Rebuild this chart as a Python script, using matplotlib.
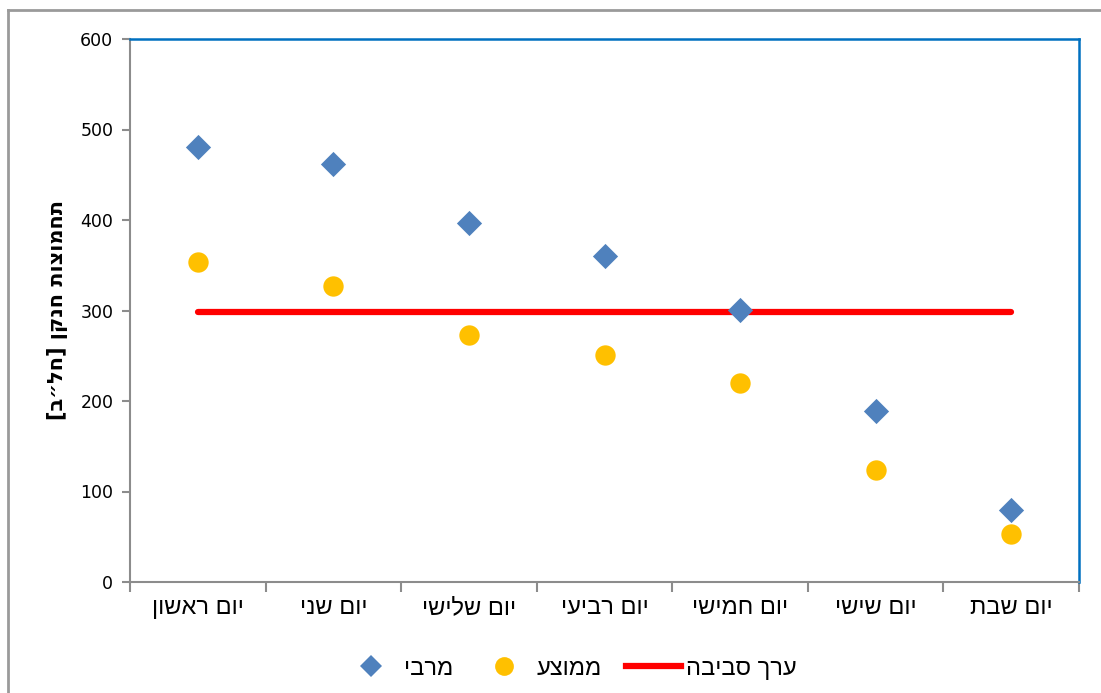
import matplotlib.pyplot as plt
from matplotlib.lines import Line2D
import numpy as np

plt.rcParams['font.family'] = ['Liberation Sans', 'DejaVu Sans']

days = ["יום ראשון", "יום שני", "יום שלישי", "יום רביעי", "יום חמישי", "יום שישי", "יום שבת"]
max_vals = [481, 462, 397, 360, 301, 189, 80]
mean_vals = [354, 327, 273, 251, 220, 124, 53]
ambient = 298
ylabel = "תחמוצות חנקן [חל״ב]"
series_names = ["מרבי", "ממוצע", "ערך סביבה"]


def rtl(s):
    # matplotlib has no bidi support, so lay the hebrew out visually
    out = s[::-1]
    return out.translate(str.maketrans("[]()", "][)("))


grey = "#8c8c8c"
fig = plt.figure(figsize=(11.01, 6.93), dpi=100)
ax = fig.add_axes([130 / 1101, 111 / 693, 949 / 1101, 543 / 693])

x = np.arange(1, len(days) + 1)
ax.plot([x[0], x[-1]], [ambient, ambient], color="#ff0000", lw=4.5,
        solid_capstyle="round", zorder=2)
ax.scatter(x, max_vals, marker="D", s=165, color="#4f81bd", lw=0, zorder=3)
ax.scatter(x, mean_vals, marker="o", s=215, color="#ffc000", lw=0, zorder=3)

ax.set_xlim(0.5, len(days) + 0.5)
ax.set_ylim(0, 600)
ax.set_yticks(range(0, 601, 100))
ax.set_yticklabels([str(v) for v in range(0, 601, 100)], family="DejaVu Sans")
ax.set_xticks(x)
ax.set_xticklabels([rtl(d) for d in days], fontsize=17)
ax.set_xticks(np.arange(0.5, len(days) + 1, 1), minor=True)
ax.tick_params(axis="x", which="major", length=0, pad=11)
ax.tick_params(axis="x", which="minor", length=7, color=grey, width=1.5)
ax.tick_params(axis="y", length=6, color=grey, width=1.5, labelsize=12.5, pad=6)
ax.set_ylabel(rtl(ylabel), fontsize=15, fontweight="bold", family="DejaVu Sans",
              labelpad=9)

for side in ["top", "right"]:
    ax.spines[side].set_color("#0070c0")
    ax.spines[side].set_linewidth(1.8)
for side in ["left", "bottom"]:
    ax.spines[side].set_color(grey)
    ax.spines[side].set_linewidth(1.5)

handles = [
    Line2D([], [], ls="none", marker="D", ms=11, mew=0, color="#4f81bd"),
    Line2D([], [], ls="none", marker="o", ms=13.5, mew=0, color="#ffc000"),
    Line2D([], [], color="#ff0000", lw=4.5),
]
ax.legend(handles, [rtl(n) for n in series_names], loc="upper center",
          bbox_to_anchor=(0.4636, -0.1), ncol=3, frameon=False, fontsize=17,
          handlelength=2.35, columnspacing=1.0, handletextpad=0.2)

# chart area border
fig.add_artist(Line2D([8 / 1101, 1], [1 - 10 / 693] * 2, color="#9a9a9a", lw=2))
fig.add_artist(Line2D([8 / 1101] * 2, [0, 1 - 10 / 693], color="#9a9a9a", lw=2))

fig.savefig("out.png", dpi=100)
